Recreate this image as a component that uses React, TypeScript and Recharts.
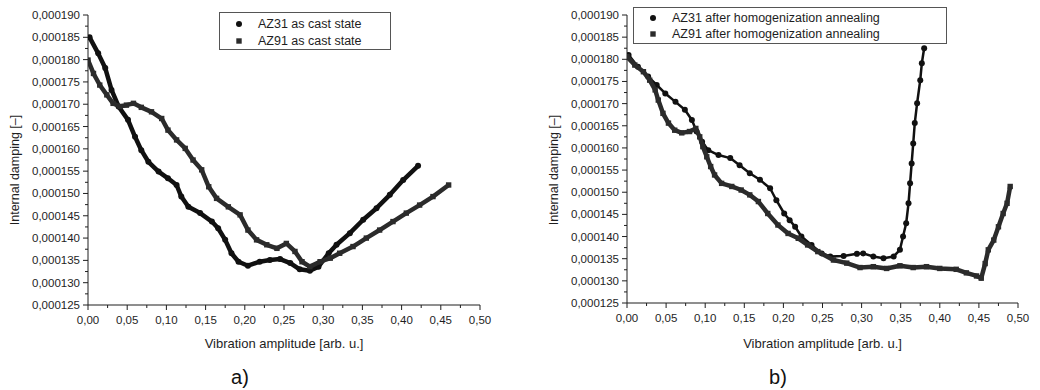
import React from "react";
import { ScatterChart, Scatter, XAxis, YAxis } from "recharts";

// values; y in units of 1e-6
const az31CastX = [0.002, 0.013, 0.022, 0.03, 0.039, 0.051, 0.06, 0.068, 0.077, 0.09, 0.102, 0.113, 0.119, 0.128, 0.143, 0.158, 0.166, 0.175, 0.183, 0.192, 0.204, 0.219, 0.232, 0.245, 0.258, 0.27, 0.283, 0.294, 0.307, 0.317, 0.334, 0.351, 0.368, 0.385, 0.402, 0.421];
const az31CastY = [185.0, 181.4, 178.1, 173.2, 169.5, 166.5, 162.7, 159.7, 157.1, 154.9, 153.4, 151.9, 149.3, 147.0, 145.6, 143.7, 142.2, 139.6, 136.6, 134.7, 133.8, 134.7, 135.1, 135.3, 134.4, 133.0, 132.7, 133.6, 136.6, 138.5, 141.1, 144.1, 146.7, 149.7, 153.0, 156.2];

const az91CastX = [0.0, 0.007, 0.015, 0.024, 0.032, 0.041, 0.049, 0.058, 0.068, 0.081, 0.094, 0.102, 0.113, 0.124, 0.134, 0.145, 0.154, 0.164, 0.179, 0.194, 0.204, 0.215, 0.228, 0.241, 0.253, 0.264, 0.273, 0.283, 0.296, 0.309, 0.321, 0.338, 0.355, 0.372, 0.389, 0.406, 0.423, 0.44, 0.46];
const az91CastY = [179.9, 176.9, 174.3, 172.1, 170.2, 169.5, 169.8, 170.2, 169.3, 168.3, 166.8, 164.2, 162.0, 160.1, 157.5, 155.3, 151.5, 148.9, 147.0, 145.2, 141.8, 139.6, 138.5, 137.7, 138.8, 137.0, 134.7, 133.6, 134.7, 135.5, 136.6, 138.1, 140.0, 141.8, 143.7, 145.6, 147.4, 149.3, 151.9];

const az31HomX = [0.002, 0.014, 0.027, 0.038, 0.049, 0.062, 0.074, 0.083, 0.089, 0.096, 0.104, 0.117, 0.132, 0.144, 0.157, 0.17, 0.183, 0.191, 0.201, 0.208, 0.215, 0.223, 0.236, 0.249, 0.26, 0.277, 0.294, 0.302, 0.315, 0.328, 0.341, 0.349, 0.353, 0.357, 0.36, 0.362, 0.364, 0.366, 0.368, 0.371, 0.375, 0.377, 0.38];
const az31HomY = [181.0, 178.3, 176.1, 174.2, 172.3, 170.4, 168.6, 166.3, 163.7, 161.4, 159.5, 158.4, 157.7, 156.1, 154.3, 152.8, 150.9, 148.2, 145.2, 143.7, 142.2, 140.0, 138.1, 136.2, 135.5, 135.6, 136.1, 136.2, 135.5, 135.1, 135.5, 137.0, 140.0, 143.0, 147.5, 152.0, 156.5, 161.0, 165.6, 170.1, 175.3, 179.1, 182.5];

const az91HomX = [0.0, 0.01, 0.021, 0.029, 0.036, 0.04, 0.046, 0.053, 0.061, 0.07, 0.08, 0.088, 0.093, 0.097, 0.102, 0.107, 0.112, 0.121, 0.134, 0.146, 0.157, 0.168, 0.18, 0.193, 0.206, 0.219, 0.231, 0.244, 0.264, 0.281, 0.298, 0.315, 0.332, 0.349, 0.366, 0.383, 0.4, 0.421, 0.434, 0.447, 0.453, 0.458, 0.462, 0.469, 0.475, 0.481, 0.486, 0.49];
const az91HomY = [180.6, 178.7, 177.2, 175.3, 173.1, 170.8, 167.8, 165.6, 164.0, 163.4, 163.7, 164.4, 162.5, 160.3, 158.0, 155.8, 153.9, 152.0, 151.3, 150.5, 149.4, 147.9, 145.2, 142.6, 140.7, 139.6, 138.1, 136.6, 134.7, 134.0, 133.0, 133.2, 132.8, 133.4, 133.0, 133.2, 132.8, 132.6, 131.8, 131.1, 130.6, 133.9, 137.0, 139.2, 142.2, 145.2, 147.5, 151.3];

const xMajorTicks = [0, 0.05, 0.1, 0.15, 0.2, 0.25, 0.3, 0.35, 0.4, 0.45, 0.5];
const yMajorTicks = [125, 130, 135, 140, 145, 150, 155, 160, 165, 170, 175, 180, 185, 190];

const xTicks = xMajorTicks.flatMap((t, i) => (i === 0 ? [t] : [t - 0.025, t]));
const yTicks = yMajorTicks.flatMap((t, i) => (i === 0 ? [t] : [t - 2.5, t]));

const FONT = '"Liberation Sans", Arial, sans-serif';
const INK = "#1e1e1e";

const toPoints = (xs: number[], ys: number[]) => xs.map((x, i) => ({ x, y: ys[i] }));

const CircleDot = (p: any) => <circle cx={p.cx} cy={p.cy} r={3} fill="#111" />;
const SquareDot = (p: any) => (
  <rect x={p.cx - 2.7} y={p.cy - 2.7} width={5.4} height={5.4} fill="#2b2b2b" />
);

const YTick = (p: any) => {
  const v = p.payload.value;
  const major = Math.round((v - 125) / 2.5) % 2 === 0;
  return (
    <g>
      <line x1={p.x - (major ? 5 : 3)} x2={p.x} y1={p.y} y2={p.y} stroke={INK} />
      {major && (
        <text x={p.x - 8} y={p.y} dy={4} textAnchor="end" fontSize={11.5} fill={INK} fontFamily={FONT}>
          {(v / 1e6).toFixed(6).replace(".", ",")}
        </text>
      )}
    </g>
  );
};

const XTick = (p: any) => {
  const v = p.payload.value;
  const major = Math.round(v / 0.025) % 2 === 0;
  return (
    <g>
      <line x1={p.x} x2={p.x} y1={p.y} y2={p.y + (major ? 5 : 3)} stroke={INK} />
      {major && (
        <text x={p.x} y={p.y + 19} textAnchor="middle" fontSize={11.5} fill={INK} fontFamily={FONT}>
          {v.toFixed(2).replace(".", ",")}
        </text>
      )}
    </g>
  );
};

interface SeriesDef {
  name: string;
  data: { x: number; y: number }[];
  kind: "circle" | "square";
  lineWidth: number;
}

interface PanelProps {
  left: number;
  yAxisWidth: number;
  marginRight: number;
  marginBottom: number;
  series: SeriesDef[];
  legendBox: { left: number; top: number; width: number; height: number };
  legendRow: number;
  titleX: number;
  caption: string;
  captionX: number;
}

function Panel({ left, yAxisWidth, marginRight, marginBottom, series, legendBox, legendRow, titleX, caption, captionX }: PanelProps) {
  const plotLeft = yAxisWidth;
  const plotRight = 520 - marginRight;
  const plotCenter = left + (plotLeft + plotRight) / 2;
  return (
    <>
      <div style={{ position: "absolute", left, top: 0 }}>
        <ScatterChart width={520} height={390} margin={{ top: 15, right: marginRight, bottom: marginBottom, left: 0 }}>
          <XAxis
            type="number"
            dataKey="x"
            domain={[0, 0.5]}
            ticks={xTicks}
            interval={0}
            tickSize={0}
            tickMargin={0}
            tick={<XTick />}
            height={40}
            stroke={INK}
            allowDataOverflow
          />
          <YAxis
            type="number"
            dataKey="y"
            domain={[125, 190]}
            ticks={yTicks}
            interval={0}
            tickSize={0}
            tickMargin={0}
            tick={<YTick />}
            width={yAxisWidth}
            stroke={INK}
            allowDataOverflow
          />
          {series.map((s) => (
            <Scatter
              key={s.name}
              name={s.name}
              data={s.data}
              shape={s.kind === "circle" ? CircleDot : SquareDot}
              line={{ stroke: s.kind === "circle" ? "#111" : "#2b2b2b", strokeWidth: s.lineWidth, strokeLinejoin: "round" }}
              isAnimationActive={false}
            />
          ))}
        </ScatterChart>
      </div>
      <div
        style={{
          position: "absolute",
          left: left + titleX,
          top: 170,
          transform: "translate(-50%, -50%) rotate(-90deg)",
          fontFamily: FONT,
          fontSize: 12.5,
          color: INK,
          whiteSpace: "nowrap",
        }}
      >
        Internal damping [–]
      </div>
      <div
        style={{
          position: "absolute",
          left: plotCenter,
          top: 343,
          transform: "translate(-50%, -50%)",
          fontFamily: FONT,
          fontSize: 13,
          color: INK,
          whiteSpace: "nowrap",
        }}
      >
        Vibration amplitude [arb. u.]
      </div>
      <div
        style={{
          position: "absolute",
          left: captionX,
          top: 377,
          transform: "translate(-50%, -50%)",
          fontFamily: FONT,
          fontSize: 20,
          color: "#111",
        }}
      >
        {caption}
      </div>
      <div
        style={{
          position: "absolute",
          left: legendBox.left,
          top: legendBox.top,
          width: legendBox.width,
          height: legendBox.height,
          border: "1px solid #555",
          boxSizing: "border-box",
          background: "#fff",
          fontFamily: FONT,
          fontSize: 12.5,
          color: INK,
          paddingTop: 2,
        }}
      >
        {series.map((s) => (
          <div key={s.name} style={{ display: "flex", alignItems: "center", height: legendRow, whiteSpace: "nowrap" }}>
            <svg width={38} height={10}>
              {s.kind === "circle" ? (
                <circle cx={19} cy={5} r={3} fill="#111" />
              ) : (
                <rect x={16.3} y={2.3} width={5.4} height={5.4} fill="#2b2b2b" />
              )}
            </svg>
            <span>{s.name}</span>
          </div>
        ))}
      </div>
    </>
  );
}

export default function App() {
  const castSeries: SeriesDef[] = [
    { name: "AZ31 as cast state", data: toPoints(az31CastX, az31CastY), kind: "circle", lineWidth: 4.5 },
    { name: "AZ91 as cast state", data: toPoints(az91CastX, az91CastY), kind: "square", lineWidth: 4.5 },
  ];
  const homSeries: SeriesDef[] = [
    { name: "AZ31 after homogenization annealing", data: toPoints(az31HomX, az31HomY), kind: "circle", lineWidth: 2.5 },
    { name: "AZ91 after homogenization annealing", data: toPoints(az91HomX, az91HomY), kind: "square", lineWidth: 4.5 },
  ];

  return (
    <div style={{ position: "absolute", left: 0, top: 0, width: 1040, height: 390, background: "#fff", overflow: "hidden" }}>
      <Panel
        left={0}
        yAxisWidth={88}
        marginRight={40}
        marginBottom={45}
        series={castSeries}
        legendBox={{ left: 219, top: 12, width: 172, height: 38 }}
        legendRow={17}
        titleX={15}
        caption="a)"
        captionX={240}
      />
      <Panel
        left={520}
        yAxisWidth={107}
        marginRight={22}
        marginBottom={47}
        series={homSeries}
        legendBox={{ left: 633, top: 7, width: 314, height: 37 }}
        legendRow={16}
        titleX={34}
        caption="b)"
        captionX={778}
      />
    </div>
  );
}
